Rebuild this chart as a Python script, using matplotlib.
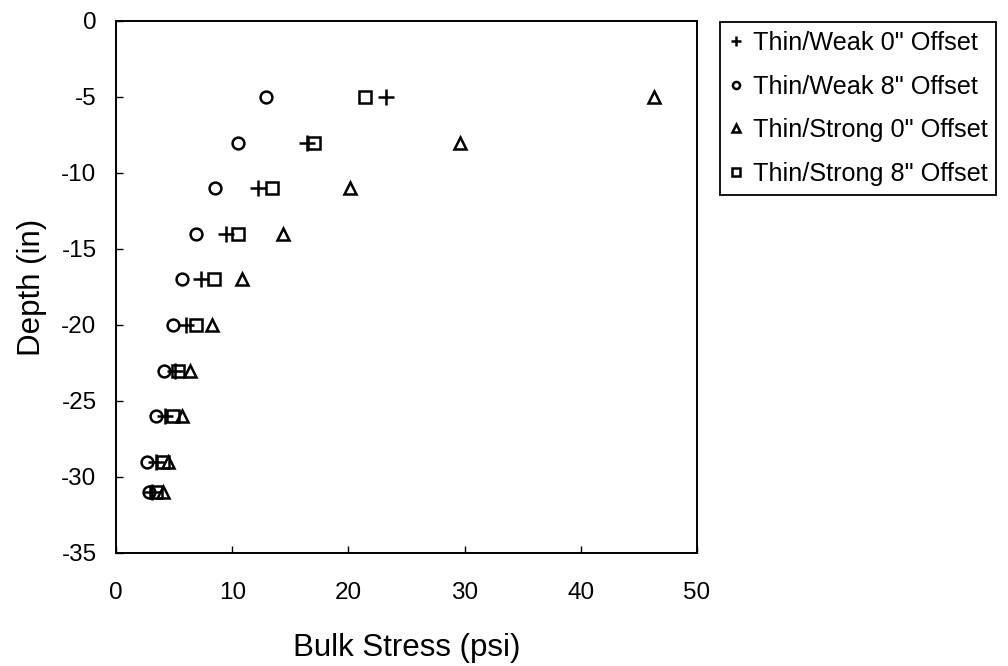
import matplotlib
matplotlib.use("Agg")
import matplotlib.pyplot as plt

plt.rcParams["font.family"] = ["Liberation Sans", "DejaVu Sans"]
plt.rcParams["axes.unicode_minus"] = False

depth = [-5, -8, -11, -14, -17, -20, -23, -26, -29, -31]

# bulk stress (psi) at each depth for the four sections
weak_0 = [23.2, 16.4, 12.2, 9.5, 7.3, 6.0, 5.1, 4.2, 3.4, 3.1]
weak_8 = [12.9, 10.5, 8.5, 6.9, 5.7, 4.9, 4.1, 3.4, 2.7, 2.8]
strong_0 = [46.3, 29.6, 20.1, 14.4, 10.8, 8.3, 6.4, 5.7, 4.5, 4.0]
strong_8 = [21.4, 17.0, 13.4, 10.5, 8.4, 6.9, 5.3, 4.9, 4.0, 3.4]

series = [
    (weak_0, "+", 'Thin/Weak 0" Offset'),
    (weak_8, "o", 'Thin/Weak 8" Offset'),
    (strong_0, "^", 'Thin/Strong 0" Offset'),
    (strong_8, "s", 'Thin/Strong 8" Offset'),
]

fig = plt.figure(figsize=(10.08, 6.66), dpi=100)
ax = fig.add_axes([0.1151, 0.1697, 0.5764, 0.7988])

handles = []
for vals, mk, lab in series:
    size = 11 if mk == "+" else 8.5
    (h,) = ax.plot(vals, depth, linestyle="none", marker=mk, markersize=size,
                   markerfacecolor="none", markeredgecolor="black",
                   markeredgewidth=1.8, label=lab)
    handles.append(h)

ax.set_xlim(0, 50)
ax.set_ylim(-35, 0)
ax.set_xticks(range(0, 51, 10))
ax.set_yticks(range(-35, 1, 5))
ax.tick_params(direction="in", length=5, width=1, labelsize=17.5,
               colors="black")
ax.tick_params(axis="x", pad=21)
ax.tick_params(axis="y", pad=14)
for sp in ax.spines.values():
    sp.set_linewidth(1.4)

ax.set_xlabel("Bulk Stress (psi)", fontsize=22.5, labelpad=21)
ax.set_ylabel("Depth (in)", fontsize=22.5, labelpad=10)

leg = fig.legend(handles=handles, loc="upper left",
                 bbox_to_anchor=(0.714, 0.967), borderaxespad=0,
                 fancybox=False, edgecolor="black", fontsize=18.2,
                 handlelength=0.6, handletextpad=0.35, markerscale=0.6,
                 labelspacing=0.78, borderpad=0.35, framealpha=1)
leg.get_frame().set_linewidth(1.3)

fig.savefig("out.png", dpi=100)
